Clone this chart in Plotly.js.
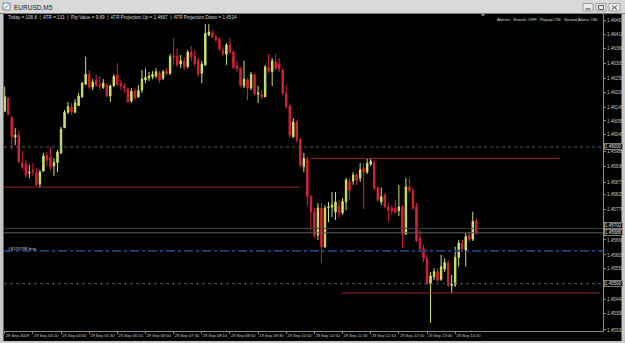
<!DOCTYPE html>
<html><head><meta charset="utf-8">
<script src="https://cdn.plot.ly/plotly-3.0.1.min.js"></script>
<style>html,body{margin:0;padding:0;background:#000;overflow:hidden}#chart{width:625px;height:343px}</style>
</head><body><div id="chart"></div>
<script>
// ---- data (EURUSD M5, 29 Sep 2009, 03:30 .. 14:40) ----
const openP = [1.46131,1.46178,1.46107,1.46036,1.46043,1.45941,1.45937,1.45905,1.45916,1.45905,
1.45864,1.45912,1.45970,1.45963,1.45930,1.45943,1.45978,1.46070,1.46127,1.46146,
1.46127,1.46151,1.46183,1.46229,1.46266,1.46219,1.46245,1.46228,1.46218,1.46226,
1.46186,1.46224,1.46263,1.46232,1.46224,1.46212,1.46168,1.46204,1.46183,1.46208,
1.46245,1.46252,1.46257,1.46259,1.46270,1.46251,1.46276,1.46269,1.46332,1.46331,
1.46303,1.46313,1.46293,1.46347,1.46331,1.46315,1.46269,1.46300,1.46409,1.46417,
1.46402,1.46394,1.46354,1.46339,1.46374,1.46347,1.46296,1.46287,1.46224,1.46245,
1.46215,1.46263,1.46193,1.46192,1.46183,1.46290,1.46275,1.46311,1.46303,1.46281,
1.46196,1.46150,1.46037,1.46091,1.46026,1.45928,1.45956,1.45818,1.45763,1.45678,
1.45776,1.45635,1.45777,1.45780,1.45762,1.45784,1.45759,1.45800,1.45873,1.45875,
1.45897,1.45886,1.45922,1.45909,1.45937,1.45942,1.45850,1.45800,1.45824,1.45781,
1.45776,1.45776,1.45767,1.45781,1.45682,1.45854,1.45840,1.45781,1.45666,1.45629,
1.45593,1.45499,1.45525,1.45544,1.45516,1.45554,1.45574,1.45493,1.45495,1.45596,
1.45648,1.45623,1.45675,1.45663,1.45730];
const highP = [1.46220,1.46182,1.46113,1.46069,1.46058,1.45985,1.45952,1.45934,1.45941,1.45923,
1.45916,1.45978,1.45981,1.45999,1.45959,1.45989,1.46073,1.46135,1.46165,1.46161,
1.46175,1.46197,1.46237,1.46330,1.46281,1.46248,1.46263,1.46259,1.46248,1.46233,
1.46229,1.46266,1.46306,1.46245,1.46233,1.46215,1.46215,1.46215,1.46226,1.46281,
1.46287,1.46274,1.46277,1.46288,1.46277,1.46281,1.46288,1.46340,1.46398,1.46361,
1.46336,1.46329,1.46354,1.46369,1.46354,1.46327,1.46315,1.46449,1.46449,1.46427,
1.46409,1.46402,1.46365,1.46380,1.46398,1.46354,1.46315,1.46292,1.46315,1.46252,
1.46274,1.46270,1.46223,1.46208,1.46300,1.46340,1.46325,1.46340,1.46325,1.46288,
1.46226,1.46155,1.46106,1.46098,1.46033,1.45978,1.45963,1.45824,1.45777,1.45795,
1.45795,1.45787,1.45799,1.45835,1.45835,1.45806,1.45813,1.45886,1.45886,1.45908,
1.45905,1.45941,1.45941,1.45956,1.45956,1.45952,1.45857,1.45852,1.45831,1.45795,
1.45787,1.45806,1.45861,1.45787,1.45886,1.45886,1.45850,1.45795,1.45696,1.45641,
1.45605,1.45543,1.45557,1.45557,1.45605,1.45593,1.45586,1.45532,1.45635,1.45660,
1.45660,1.45685,1.45689,1.45763,1.45737];
const lowP = [1.46127,1.46117,1.45989,1.46007,1.45941,1.45916,1.45886,1.45886,1.45894,1.45857,
1.45850,1.45908,1.45930,1.45916,1.45894,1.45908,1.45974,1.46069,1.46120,1.46117,
1.46124,1.46150,1.46179,1.46226,1.46212,1.46208,1.46219,1.46208,1.46212,1.46182,
1.46164,1.46219,1.46223,1.46208,1.46197,1.46161,1.46161,1.46171,1.46179,1.46197,
1.46233,1.46241,1.46248,1.46252,1.46233,1.46245,1.46263,1.46263,1.46300,1.46292,
1.46288,1.46281,1.46288,1.46313,1.46296,1.46259,1.46233,1.46296,1.46405,1.46398,
1.46384,1.46351,1.46332,1.46300,1.46340,1.46285,1.46274,1.46219,1.46215,1.46171,
1.46208,1.46190,1.46161,1.46175,1.46182,1.46270,1.46223,1.46281,1.46274,1.46190,
1.46142,1.46033,1.46033,1.46015,1.45926,1.45908,1.45784,1.45696,1.45667,1.45660,
1.45576,1.45630,1.45725,1.45744,1.45733,1.45740,1.45751,1.45769,1.45806,1.45861,
1.45861,1.45872,1.45773,1.45901,1.45930,1.45842,1.45799,1.45787,1.45777,1.45725,
1.45751,1.45755,1.45747,1.45630,1.45678,1.45831,1.45769,1.45652,1.45623,1.45579,
1.45495,1.45357,1.45513,1.45506,1.45510,1.45543,1.45488,1.45466,1.45488,1.45562,
1.45619,1.45562,1.45652,1.45656,1.45678];
const closeP = [1.46183,1.46119,1.46037,1.46043,1.45946,1.45926,1.45897,1.45908,1.45912,1.45861,
1.45908,1.45967,1.45952,1.45926,1.45943,1.45981,1.46065,1.46127,1.46147,1.46127,
1.46161,1.46186,1.46233,1.46266,1.46219,1.46237,1.46226,1.46223,1.46233,1.46186,
1.46223,1.46257,1.46229,1.46223,1.46215,1.46165,1.46203,1.46181,1.46206,1.46248,
1.46254,1.46259,1.46265,1.46275,1.46245,1.46275,1.46268,1.46330,1.46329,1.46300,
1.46315,1.46292,1.46347,1.46329,1.46305,1.46266,1.46303,1.46415,1.46420,1.46402,
1.46391,1.46358,1.46340,1.46373,1.46347,1.46290,1.46287,1.46226,1.46248,1.46215,
1.46265,1.46195,1.46197,1.46183,1.46292,1.46276,1.46314,1.46288,1.46287,1.46196,
1.46148,1.46043,1.46091,1.46026,1.45934,1.45958,1.45818,1.45763,1.45678,1.45777,
1.45635,1.45776,1.45780,1.45787,1.45799,1.45758,1.45800,1.45879,1.45842,1.45897,
1.45879,1.45917,1.45908,1.45940,1.45948,1.45849,1.45806,1.45818,1.45781,1.45769,
1.45767,1.45763,1.45781,1.45684,1.45854,1.45840,1.45776,1.45657,1.45629,1.45593,
1.45501,1.45528,1.45544,1.45513,1.45562,1.45577,1.45495,1.45497,1.45596,1.45648,
1.45627,1.45672,1.45663,1.45727,1.45686];

const timeTickLabels = ["29 Sep 2009","29 Sep 04:10","29 Sep 04:50","29 Sep 05:30","29 Sep 06:10",
"29 Sep 06:50","29 Sep 07:30","29 Sep 08:10","29 Sep 08:50","29 Sep 09:30","29 Sep 10:10",
"29 Sep 10:50","29 Sep 11:30","29 Sep 12:10","29 Sep 12:50","29 Sep 13:30","29 Sep 14:10"];
const barsPerTimeTick = 8;
const priceTicks = [1.46461,1.46410,1.46360,1.46305,1.46250,1.46200,1.46145,1.46095,1.46045,1.45985,
1.45930,1.45871,1.45825,1.45770,1.45660,1.45605,1.45555,1.45441,1.45390,1.45331];

const roundLevels = [1.46000, 1.45500];          // dotted levels (boxed labels)
const srLevels = [1.45853, 1.45958, 1.45466];    // red support / resistance
const srStartBar = [-1, 86.9, 95.8];
const srEndBar = [83.9, 157.75, 169.1];
const orderLevel = 1.45620, orderLabel = "#9125298 buy";
const askLevel = 1.45702, bidLevel = 1.45686;
const infoText = "Today = 108.8  |  ATR = 131  |  Pip Value = 9.69  |  ATR Projection Up = 1.4667  |  ATR Projection Down = 1.4514";
const alertText = "Alerter:  Emails OFF.  Popup ON.  Sound Alerts ON.";

// ---- layout geometry ----
const W = 625, H = 343, PL = 4, PR = 603, PT = 14, PB = 331;
const fx = px => (px - PL) / (PR - PL);
const fy = py => (PB - py) / (PB - PT);
const UP = '#cde466', DN = '#d8203a';
const FONT = 'Liberation Sans, Arial, sans-serif';

const idx = openP.map((_, i) => i);
const trace = {
  type: 'candlestick', x: idx, open: openP, high: highP, low: lowP, close: closeP,
  increasing: {line: {color: UP, width: 1}, fillcolor: UP},
  decreasing: {line: {color: DN, width: 1}, fillcolor: DN},
  whiskerwidth: 0, hoverinfo: 'skip', showlegend: false
};

const shapes = [];
const rectP = (x0, y0, x1, y1, fill, line, lw) => shapes.push({type: 'rect', xref: 'paper', yref: 'paper',
  x0: fx(x0), x1: fx(x1), y0: fy(y1), y1: fy(y0), fillcolor: fill, line: {color: line || fill, width: lw || 0}, layer: 'below'});
const lineP = (x0, y0, x1, y1, color, w) => shapes.push({type: 'line', xref: 'paper', yref: 'paper',
  x0: fx(x0), x1: fx(x1), y0: fy(y0), y1: fy(y1), line: {color: color, width: w || 1}});

// window frame
rectP(0, 0, W, 13, '#d9d9d9');
lineP(0, 13.5, W, 13.5, '#7a7a7a', 1);
rectP(0, 13, 3.5, H, '#c6c6c6');
rectP(621.5, 13, W, H, '#c6c6c6');
rectP(0, 341, W, H, '#c6c6c6');
// icon
rectP(3, 3, 10, 10, '#f4f4f4', '#4a6ea8', 0.8);
lineP(4.5, 8.5, 8.5, 5, '#2a7a2a', 0.8);
// window buttons
[[583, 593], [596, 606], [609, 620]].forEach(b => rectP(b[0], 3.5, b[1], 11, '#ececec', '#8c8c8c', 0.8));
lineP(585.5, 9, 590.5, 9, '#333', 1);
rectP(598.5, 5.5, 603.5, 9.5, 'rgba(0,0,0,0)', '#333', 0.8);
lineP(612, 5.5, 617, 9.5, '#333', 0.9);
lineP(612, 9.5, 617, 5.5, '#333', 0.9);
// shift marker
shapes.push({type: 'path', xref: 'paper', yref: 'paper', path:
  `M ${fx(481)},${fy(14)} L ${fx(485)},${fy(14)} L ${fx(483)},${fy(16.5)} Z`, fillcolor: '#9a9a9a', line: {width: 0}});

// price lines
roundLevels.forEach(v => shapes.push({type: 'line', xref: 'paper', yref: 'y', x0: 0, x1: 1, y0: v, y1: v,
  line: {color: '#5a5a5a', width: 1, dash: 'dot'}}));
srLevels.forEach((v, i) => shapes.push({type: 'line', xref: 'x', yref: 'y', x0: srStartBar[i], x1: srEndBar[i], y0: v, y1: v,
  line: {color: '#932828', width: 1}}));
shapes.push({type: 'line', xref: 'paper', yref: 'y', x0: 0, x1: 1, y0: orderLevel, y1: orderLevel,
  line: {color: '#22407a', width: 1.6, dash: 'dashdot'}});
shapes.push({type: 'line', xref: 'paper', yref: 'y', x0: 0, x1: 1, y0: askLevel, y1: askLevel, line: {color: '#404040', width: 1}});
shapes.push({type: 'line', xref: 'paper', yref: 'y', x0: 0, x1: 1, y0: bidLevel, y1: bidLevel, line: {color: '#5c5c5c', width: 1}});

const ann = [];
ann.push({text: 'EURUSD,M5', xref: 'paper', yref: 'paper', x: fx(12), y: fy(7.5), xanchor: 'left', yanchor: 'middle',
  showarrow: false, font: {family: FONT, size: 6.5, color: '#222'}});
ann.push({text: infoText, xref: 'paper', yref: 'paper', x: fx(6), y: fy(17.5), xanchor: 'left', yanchor: 'middle',
  showarrow: false, font: {family: FONT, size: 4.6, color: '#d8d8d8'}});
ann.push({text: alertText, xref: 'paper', yref: 'paper', x: fx(600), y: fy(19), xanchor: 'right', yanchor: 'middle',
  showarrow: false, font: {family: FONT, size: 4.4, color: '#d8d8d8'}});
ann.push({text: orderLabel, xref: 'paper', yref: 'y', x: fx(6), y: orderLevel, yshift: 2.5, xanchor: 'left', yanchor: 'middle',
  showarrow: false, font: {family: FONT, size: 4.4, color: '#c8c8c8'}});
const boxLabel = (v, shift) => ann.push({text: v.toFixed(5), xref: 'paper', yref: 'y', x: 1, y: v, yshift: shift,
  xanchor: 'left', yanchor: 'middle', xshift: 1, showarrow: false, bgcolor: '#000', bordercolor: '#9a9a9a', borderwidth: 0.8,
  borderpad: 0, font: {family: FONT, size: 4.6, color: '#e0e0e0'}});
boxLabel(roundLevels[0], 0);
boxLabel(askLevel, 3);
boxLabel(bidLevel, 0.6);
boxLabel(roundLevels[1], 0);

const layout = {
  width: W, height: H, margin: {l: PL, r: W - PR, t: PT, b: H - PB, pad: 0},
  paper_bgcolor: '#000', plot_bgcolor: '#000', showlegend: false, boxgap: 0.42,
  font: {family: FONT, size: 4.6, color: '#c0c0c0'},
  xaxis: {range: [-0.2, 170], showgrid: false, zeroline: false, showline: true, linecolor: '#8a8a8a', linewidth: 1,
    ticks: 'outside', ticklen: 2, tickcolor: '#8a8a8a', tickwidth: 1, tickangle: 0, automargin: false,
    tickvals: timeTickLabels.map((_, i) => i * barsPerTimeTick), ticktext: timeTickLabels,
    ticklabelposition: 'outside right', tickfont: {family: FONT, size: 4.1, color: '#c8c8c8'},
    rangeslider: {visible: false}, fixedrange: true},
  yaxis: {range: [1.45327, 1.46486], side: 'right', showgrid: false, zeroline: false, showline: true,
    linecolor: '#8a8a8a', linewidth: 1, ticks: 'outside', ticklen: 2, tickcolor: '#8a8a8a', automargin: false,
    tickvals: priceTicks, tickformat: '.5f', tickfont: {family: FONT, size: 4.6, color: '#c8c8c8'}, fixedrange: true},
  shapes: shapes, annotations: ann
};
Plotly.newPlot('chart', [trace], layout, {staticPlot: true, displayModeBar: false});
</script></body></html>
